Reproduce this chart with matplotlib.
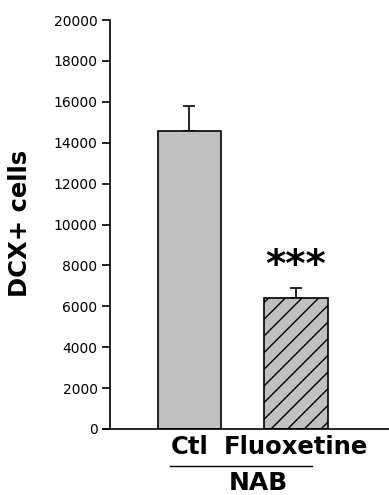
import matplotlib
matplotlib.use("Agg")
import matplotlib.pyplot as plt

categories = ["Ctl", "Fluoxetine"]
values = [14570, 6390]
errors = [1240, 520]
hatches = ["", "//"]
yticks = [0, 2000, 4000, 6000, 8000, 10000, 12000, 14000, 16000, 18000, 20000]
group_label = "NAB"
ylabel = "DCX+ cells"
signif = "***"

plt.rcParams['hatch.linewidth'] = 1.0
fig = plt.figure(figsize=(3.89, 4.95), dpi=100)
ax = fig.add_axes([110/389, 66/495, 1 - 110/389, 409/495])

x = [1, 2]
for xi, v, e, h in zip(x, values, errors, hatches):
    ax.bar(xi, v, width=0.6, color="#c0c0c0", edgecolor="black", linewidth=1.2, hatch=h, zorder=2)
    ax.errorbar(xi, v, yerr=[[0], [e]], fmt="none", ecolor="black", elinewidth=1.2, capsize=4.5, capthick=1.2, zorder=1)

ax.set_xlim(0.254, 2.873)
ax.set_ylim(0, 20000)
ax.set_yticks(yticks)
ax.set_yticklabels([str(t) for t in yticks], fontsize=10)
ax.tick_params(axis="y", direction="out", length=6, width=1.2, pad=3)
ax.set_xticks([])
for s in ["top", "right"]:
    ax.spines[s].set_visible(False)
ax.spines["left"].set_linewidth(1.2)
ax.spines["bottom"].set_linewidth(1.2)
ax.spines["bottom"].set_bounds(0.254 - 6/106.5, 2.873)
ax.spines["bottom"].set_clip_on(False)

for xi, c in zip(x, categories):
    ax.text(xi, -280, c, ha="center", va="top", fontsize=17.5, fontweight="bold", clip_on=False)

ax.text(x[1], values[1] + errors[1] + 1050, signif, ha="center", va="center", fontsize=28, fontweight="heavy")

# group line and label in figure pixel coordinates
fig.add_artist(plt.Line2D([170/389, 312/389], [1 - 466/495, 1 - 466/495], color="black", linewidth=1.0))
fig.text(258/389, 1 - 483/495, group_label, ha="center", va="center", fontsize=18, fontweight="bold")

fig.text(20/389, 1 - 223/495, ylabel, rotation=90, ha="center", va="center", fontsize=17.5, fontweight="bold")

fig.savefig("out.png", dpi=100)
